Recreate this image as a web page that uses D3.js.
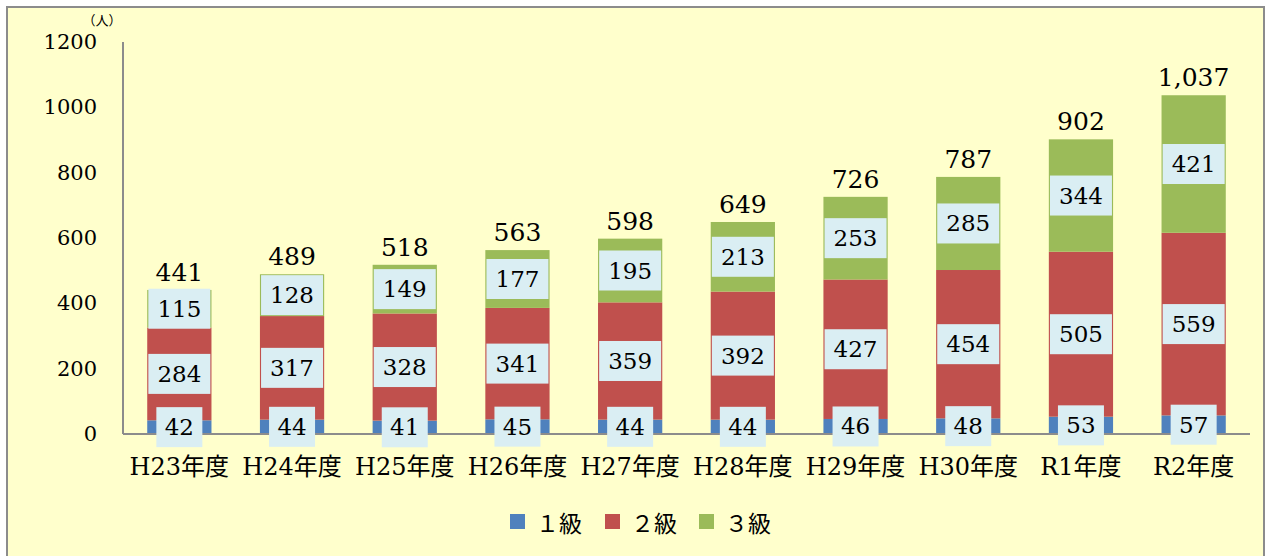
<!DOCTYPE html>
<html>
<head>
<meta charset="utf-8">
<script src="https://cdn.jsdelivr.net/npm/d3@7/dist/d3.min.js"></script>
<style>
  html, body { margin: 0; padding: 0; background: #fff; }
  svg { display: block; }
  text { font-family: "DejaVu Serif", "Liberation Serif", "Noto Sans CJK JP", serif; fill: #000; }
</style>
</head>
<body>
<div id="chart"></div>
<script>
const categories = ["H23年度", "H24年度", "H25年度", "H26年度", "H27年度", "H28年度", "H29年度", "H30年度", "R1年度", "R2年度"];
const grade1 = [42, 44, 41, 45, 44, 44, 46, 48, 53, 57];
const grade2 = [284, 317, 328, 341, 359, 392, 427, 454, 505, 559];
const grade3 = [115, 128, 149, 177, 195, 213, 253, 285, 344, 421];
const totalLabels = ["441", "489", "518", "563", "598", "649", "726", "787", "902", "1,037"];
const seriesNames = ["１級", "２級", "３級"];
const seriesColors = ["#4F81BD", "#C0504D", "#9BBB59"];
const yTicks = [0, 200, 400, 600, 800, 1000, 1200];

const W = 1269, H = 556;
const M = { left: 123, right: 1250, top: 42, bottom: 434 };

const svg = d3.select("#chart").append("svg").attr("width", W).attr("height", H);

// background + frame
svg.append("rect").attr("x", 7).attr("y", 7).attr("width", 1257).attr("height", 560)
  .attr("fill", "#FFFFCC").attr("stroke", "#8c8c8c").attr("stroke-width", 2);

const x = d3.scaleBand().domain(categories).range([M.left, M.right]).paddingInner(0.43).paddingOuter(0.215);
const y = d3.scaleLinear().domain([0, 1200]).range([M.bottom, M.top]);

const rows = categories.map((c, i) => ({ cat: c, g1: grade1[i], g2: grade2[i], g3: grade3[i], total: totalLabels[i] }));
const stack = d3.stack().keys(["g1", "g2", "g3"])(rows);

// y tick labels
svg.append("g").selectAll("text")
  .data(yTicks)
  .join("text")
  .attr("x", 97)
  .attr("y", d => y(d))
  .attr("text-anchor", "end")
  .attr("dominant-baseline", "central")
  .style("font-size", "21px")
  .text(d => d);

svg.append("text")
  .attr("x", 102).attr("y", 25)
  .attr("text-anchor", "middle")
  .style("font-size", "13px")
  .style("font-family", "Noto Sans CJK JP")
  .text("（人）");

// bars
const barG = svg.append("g");
stack.forEach((s, k) => {
  barG.selectAll(null)
    .data(s)
    .join("rect")
    .attr("x", d => x(d.data.cat))
    .attr("y", d => y(d[1]))
    .attr("width", x.bandwidth())
    .attr("height", d => y(d[0]) - y(d[1]))
    .attr("fill", seriesColors[k]);
});

// axes lines
svg.append("line").attr("x1", M.left).attr("x2", M.left).attr("y1", M.top).attr("y2", M.bottom)
  .attr("stroke", "#8c8c8c").attr("stroke-width", 2);
svg.append("line").attr("x1", M.left).attr("x2", M.right).attr("y1", M.bottom).attr("y2", M.bottom)
  .attr("stroke", "#8c8c8c").attr("stroke-width", 2);

// segment labels with light-blue boxes
const labG = svg.append("g");
stack.forEach((s, k) => {
  const g = labG.selectAll(null)
    .data(s)
    .join("g")
    .attr("transform", d => `translate(${x(d.data.cat) + x.bandwidth() / 2},${y((d[0] + d[1]) / 2)})`);
  g.append("rect")
    .attr("x", d => String(d[1] - d[0]).length > 2 ? -31 : -23)
    .attr("y", -20)
    .attr("width", d => String(d[1] - d[0]).length > 2 ? 62 : 46)
    .attr("height", 40)
    .attr("fill", "#DAEEF3");
  g.append("text")
    .attr("text-anchor", "middle")
    .attr("dominant-baseline", "central")
    .style("font-size", "23px")
    .text(d => d[1] - d[0]);
});

// totals
svg.append("g").selectAll("text")
  .data(rows)
  .join("text")
  .attr("x", d => x(d.cat) + x.bandwidth() / 2)
  .attr("y", d => y(d.g1 + d.g2 + d.g3) - 9)
  .attr("text-anchor", "middle")
  .style("font-size", "25px")
  .text(d => d.total);

// category labels
svg.append("g").selectAll("text")
  .data(categories)
  .join("text")
  .attr("x", d => x(d) + x.bandwidth() / 2)
  .attr("y", 467)
  .attr("text-anchor", "middle")
  .attr("dominant-baseline", "central")
  .style("font-size", "24px")
  .text(d => d);

// legend
const legX = [510, 605, 699];
const leg = svg.append("g").selectAll("g")
  .data(seriesNames)
  .join("g")
  .attr("transform", (d, i) => `translate(${legX[i]},514)`);
leg.append("rect").attr("width", 15).attr("height", 15).attr("fill", (d, i) => seriesColors[i]);
leg.append("text")
  .attr("x", 26).attr("y", 8)
  .attr("dominant-baseline", "central")
  .style("font-size", "23px")
  .style("font-family", "Noto Sans CJK JP")
  .text(d => d);
</script>
</body>
</html>
